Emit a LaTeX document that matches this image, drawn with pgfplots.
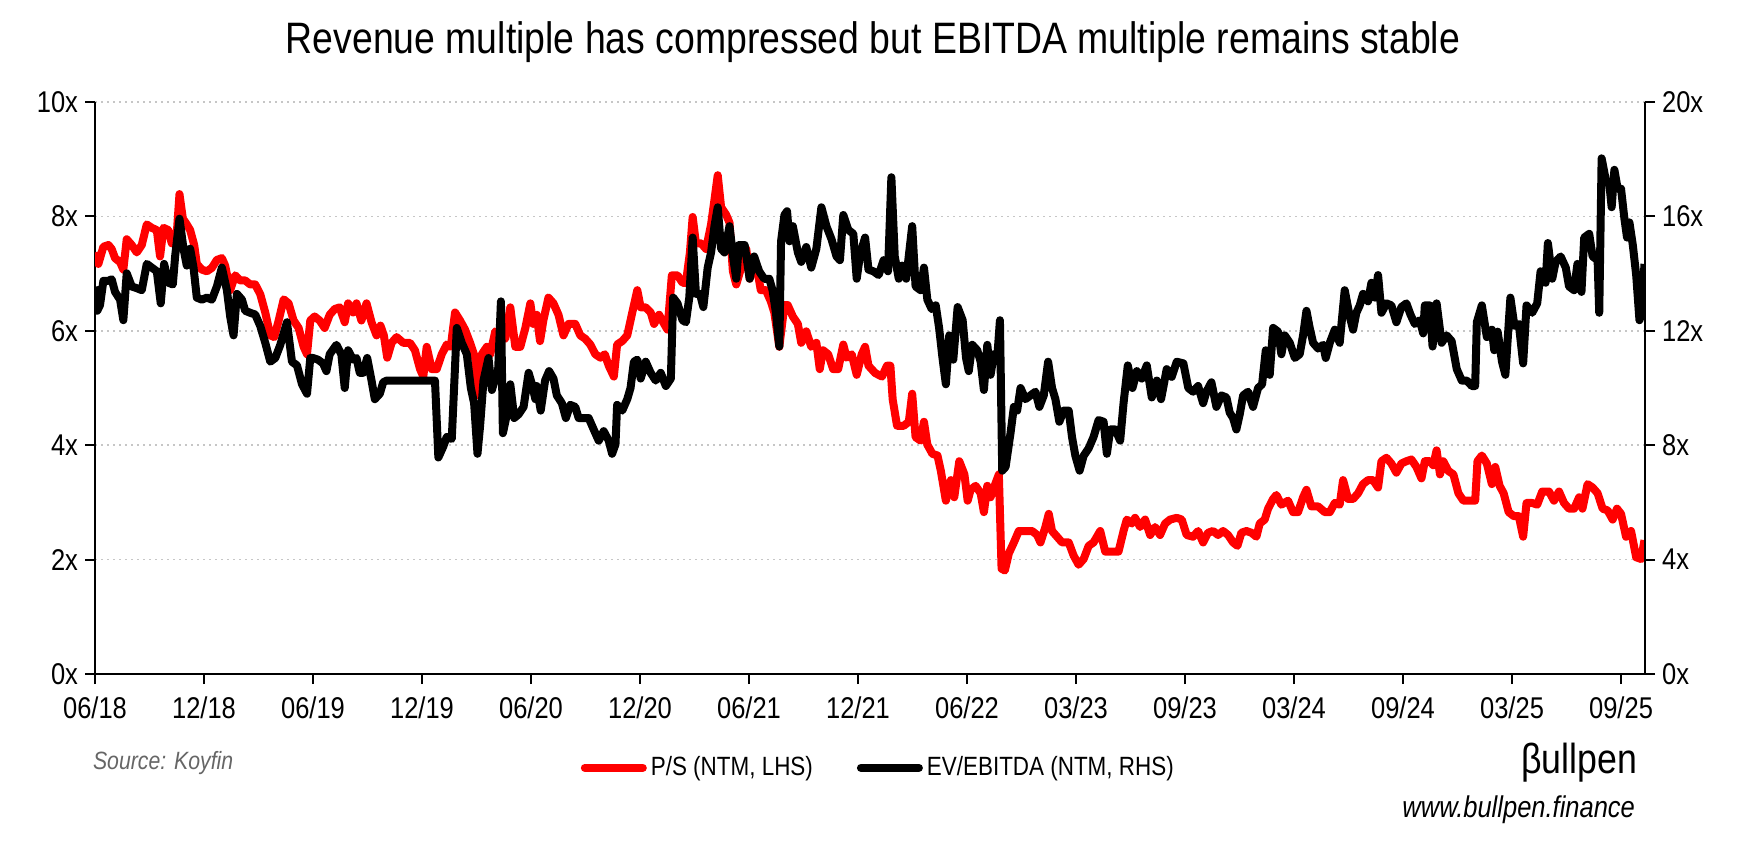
\documentclass[border=0pt]{standalone}
\usepackage{fontspec}
\setmainfont{Liberation Sans}[FakeStretch=0.85]
\usepackage{pgfplots}
\usepackage{pgfplotstable}
\pgfplotsset{compat=1.18}

% P/S (NTM), left axis; x = position in tick steps (0 = 06/18, 14 = 09/25)
\pgfplotstableread{
t v
0 7.37
0.031 7.17
0.077 7.47
0.123 7.5
0.153 7.43
0.184 7.27
0.230 7.2
0.260 7.07
0.291 7.6
0.337 7.5
0.383 7.37
0.429 7.5
0.475 7.86
0.521 7.8
0.567 7.76
0.597 7.3
0.628 7.8
0.674 7.76
0.704 7.53
0.744 7.53
0.775 8.39
0.806 7.96
0.842 7.86
0.873 7.76
0.910 7.5
0.934 7.17
0.980 7.07
1.026 7.04
1.072 7.1
1.118 7.24
1.164 7.27
1.194 7.14
1.240 6.71
1.286 6.97
1.332 6.88
1.378 6.88
1.424 6.81
1.470 6.81
1.516 6.64
1.562 6.32
1.608 5.92
1.645 5.89
1.685 6.18
1.731 6.55
1.776 6.48
1.822 6.18
1.868 6.05
1.914 5.72
1.945 5.59
1.975 6.18
2.015 6.25
2.061 6.18
2.107 6.05
2.153 6.28
2.199 6.38
2.245 6.41
2.291 6.15
2.322 6.48
2.368 6.32
2.399 6.48
2.444 6.18
2.491 6.48
2.537 6.15
2.583 5.92
2.619 6.09
2.650 5.92
2.681 5.53
2.721 5.79
2.767 5.89
2.828 5.79
2.889 5.79
2.935 5.66
2.982 5.33
3.012 5.2
3.043 5.72
3.089 5.33
3.135 5.33
3.181 5.59
3.227 5.76
3.264 5.72
3.303 6.32
3.349 6.18
3.395 6.02
3.441 5.79
3.487 5.53
3.518 4.87
3.549 5.59
3.595 5.72
3.626 5.59
3.672 5.99
3.718 5.92
3.764 5.86
3.810 6.41
3.856 5.72
3.902 5.72
3.948 6.05
3.994 6.48
4.021 6.12
4.052 6.28
4.083 5.82
4.113 6.18
4.160 6.58
4.206 6.48
4.252 6.28
4.298 5.92
4.344 6.12
4.406 6.12
4.452 5.92
4.498 5.86
4.544 5.76
4.590 5.59
4.637 5.53
4.677 5.59
4.713 5.39
4.760 5.2
4.790 5.76
4.837 5.82
4.883 5.92
4.929 6.32
4.975 6.71
5.006 6.41
5.052 6.41
5.098 6.32
5.129 6.12
5.175 6.28
5.221 6.12
5.252 6.02
5.292 6.97
5.344 6.97
5.390 6.84
5.421 6.84
5.458 7.37
5.483 7.99
5.513 7.53
5.560 7.53
5.606 7.43
5.652 7.86
5.683 8.29
5.713 8.72
5.744 8.16
5.790 8.03
5.821 7.89
5.852 7.04
5.883 6.81
5.929 7.11
5.975 7.43
6.006 6.91
6.031 7.07
6.078 7.04
6.108 6.71
6.155 6.71
6.201 6.51
6.232 6.32
6.278 5.72
6.325 6.45
6.355 6.45
6.402 6.25
6.448 6.12
6.479 5.79
6.525 5.99
6.571 5.72
6.618 5.79
6.649 5.33
6.679 5.66
6.726 5.59
6.772 5.33
6.818 5.33
6.865 5.76
6.895 5.53
6.942 5.59
6.988 5.23
7.034 5.59
7.065 5.72
7.096 5.39
7.158 5.26
7.220 5.2
7.266 5.39
7.297 5.39
7.318 4.8
7.358 4.34
7.420 4.34
7.466 4.41
7.497 4.9
7.528 4.14
7.574 4.08
7.605 4.41
7.636 4.01
7.682 3.85
7.729 3.82
7.760 3.55
7.806 3.03
7.852 3.39
7.883 3.09
7.929 3.72
7.976 3.49
8.006 3.03
8.033 3.22
8.079 3.29
8.125 3.16
8.155 2.83
8.186 3.29
8.216 3.09
8.247 3.26
8.292 3.49
8.317 1.84
8.347 1.81
8.384 2.11
8.430 2.3
8.475 2.5
8.536 2.5
8.597 2.5
8.643 2.43
8.674 2.3
8.719 2.57
8.750 2.8
8.780 2.5
8.826 2.4
8.872 2.3
8.933 2.3
8.978 2.07
9.024 1.91
9.070 2.01
9.116 2.24
9.161 2.3
9.222 2.5
9.268 2.14
9.329 2.14
9.390 2.14
9.436 2.5
9.466 2.7
9.512 2.63
9.542 2.73
9.588 2.57
9.634 2.7
9.680 2.43
9.725 2.57
9.771 2.43
9.817 2.63
9.863 2.7
9.924 2.73
9.970 2.7
10.015 2.43
10.074 2.4
10.120 2.5
10.166 2.3
10.211 2.47
10.257 2.5
10.303 2.43
10.349 2.5
10.395 2.43
10.441 2.3
10.481 2.24
10.517 2.47
10.563 2.5
10.609 2.47
10.655 2.4
10.685 2.63
10.731 2.7
10.762 2.89
10.808 3.06
10.838 3.13
10.884 2.96
10.945 3.03
10.991 2.83
11.037 2.83
11.083 3.09
11.114 3.22
11.159 2.93
11.221 2.93
11.282 2.83
11.328 2.83
11.374 2.99
11.419 2.96
11.450 3.39
11.496 3.06
11.542 3.06
11.588 3.16
11.633 3.32
11.679 3.39
11.725 3.39
11.771 3.26
11.802 3.72
11.848 3.78
11.893 3.68
11.939 3.52
11.985 3.68
12.031 3.72
12.077 3.75
12.123 3.62
12.169 3.42
12.200 3.72
12.246 3.72
12.277 3.65
12.308 3.91
12.339 3.49
12.369 3.72
12.416 3.55
12.462 3.49
12.508 3.16
12.554 3.03
12.616 3.03
12.662 3.03
12.683 3.72
12.723 3.82
12.769 3.68
12.815 3.32
12.846 3.62
12.886 3.29
12.923 3.16
12.969 2.83
13.016 2.76
13.062 2.76
13.102 2.4
13.133 2.99
13.185 2.99
13.231 2.96
13.277 3.19
13.339 3.19
13.385 3.03
13.431 3.19
13.477 2.99
13.523 2.89
13.569 2.89
13.616 3.09
13.646 2.89
13.693 3.32
13.739 3.26
13.785 3.16
13.831 2.89
13.877 2.86
13.923 2.7
13.963 2.89
14.0 2.8
14.046 2.4
14.092 2.5
14.139 2.04
14.185 2.01
14.215 2.34
}\ps

% EV/EBITDA (NTM), right axis
\pgfplotstableread{
t v
0 13.55
0.021 12.7
0.046 12.9
0.077 13.75
0.123 13.75
0.153 13.8
0.184 13.36
0.230 13.09
0.260 12.37
0.291 14.01
0.337 13.55
0.383 13.49
0.429 13.42
0.475 14.34
0.521 14.21
0.567 14.08
0.603 12.96
0.634 14.34
0.674 13.68
0.714 13.62
0.735 14.6
0.775 15.92
0.812 14.87
0.842 14.28
0.873 14.87
0.904 14.21
0.934 13.16
0.980 13.09
1.026 13.16
1.072 13.09
1.118 13.55
1.164 14.21
1.210 13.42
1.240 12.5
1.271 11.84
1.302 13.29
1.348 13.09
1.378 12.7
1.424 12.63
1.470 12.57
1.516 12.17
1.562 11.58
1.608 10.92
1.654 11.05
1.700 11.51
1.761 12.3
1.807 10.92
1.853 10.79
1.899 10.13
1.945 9.8
1.975 11.05
2.0 11.05
2.046 10.99
2.092 10.86
2.123 10.59
2.153 11.18
2.215 11.51
2.260 11.18
2.291 10.0
2.322 11.32
2.368 10.99
2.399 11.05
2.429 10.53
2.460 10.53
2.497 11.05
2.537 10.26
2.567 9.61
2.613 9.8
2.644 10.2
2.675 10.26
3.119 10.26
3.150 7.57
3.196 7.96
3.227 8.29
3.273 8.22
3.319 12.1
3.365 11.58
3.411 11.18
3.448 10.0
3.478 9.47
3.509 7.7
3.533 8.68
3.564 10.26
3.610 11.05
3.641 9.93
3.672 10.33
3.696 10.39
3.724 13.03
3.742 8.42
3.779 9.08
3.810 10.13
3.846 8.95
3.886 9.08
3.932 9.34
3.978 10.53
4.009 10.13
4.040 9.61
4.052 10.07
4.089 9.21
4.129 10.26
4.166 10.59
4.206 10.33
4.237 9.74
4.283 9.47
4.320 8.95
4.360 9.41
4.406 9.34
4.437 8.95
4.483 8.95
4.529 8.95
4.575 8.55
4.621 8.16
4.667 8.49
4.713 8.16
4.744 7.7
4.775 8.03
4.790 9.41
4.837 9.21
4.883 9.61
4.913 10.0
4.944 10.92
4.975 10.99
5.006 10.33
5.052 10.92
5.098 10.53
5.144 10.26
5.190 10.53
5.237 10.07
5.283 10.33
5.304 13.16
5.344 12.96
5.390 12.37
5.421 12.3
5.452 13.16
5.483 15.26
5.513 13.29
5.550 13.29
5.581 12.83
5.621 14.21
5.652 14.74
5.683 15.66
5.713 16.32
5.744 14.87
5.775 14.74
5.821 15.66
5.858 14.47
5.883 13.82
5.907 15.0
5.960 15.0
6.006 13.82
6.047 14.6
6.093 14.08
6.139 13.82
6.186 13.82
6.216 13.42
6.247 12.63
6.278 11.45
6.294 15.13
6.325 16.05
6.349 16.18
6.371 15.13
6.402 15.66
6.448 14.74
6.479 14.41
6.525 14.93
6.571 14.21
6.618 14.87
6.664 16.32
6.710 15.66
6.757 15.2
6.803 14.6
6.834 14.47
6.865 16.05
6.911 15.53
6.957 15.39
6.988 13.82
7.019 14.67
7.065 15.26
7.096 14.14
7.142 14.08
7.189 13.95
7.235 14.47
7.275 14.08
7.306 17.37
7.337 14.6
7.374 13.82
7.405 14.28
7.442 13.82
7.497 15.66
7.528 13.55
7.574 13.42
7.605 14.21
7.636 13.09
7.676 12.76
7.713 12.89
7.744 12.1
7.775 11.05
7.806 10.13
7.837 11.84
7.874 10.99
7.914 12.83
7.960 12.37
7.991 11.05
8.016 10.59
8.048 11.51
8.094 11.32
8.125 10.92
8.155 9.93
8.186 11.51
8.216 10.46
8.247 11.18
8.277 11.05
8.302 12.37
8.323 7.11
8.354 7.24
8.399 8.42
8.430 9.34
8.460 9.21
8.491 10.0
8.536 9.61
8.582 9.74
8.628 9.87
8.664 9.34
8.704 9.74
8.744 10.92
8.780 10.0
8.811 9.61
8.847 8.82
8.887 9.21
8.933 9.21
8.963 8.29
8.994 7.63
9.033 7.11
9.070 7.63
9.116 7.89
9.161 8.29
9.207 8.88
9.253 8.82
9.283 7.7
9.314 8.55
9.360 8.55
9.405 8.16
9.436 9.47
9.475 10.79
9.518 10.0
9.558 10.59
9.603 10.33
9.649 10.79
9.695 9.67
9.741 10.26
9.780 9.61
9.832 10.66
9.878 10.39
9.924 10.92
9.985 10.86
10.030 10.0
10.074 9.87
10.120 10.07
10.166 9.47
10.196 9.87
10.242 10.2
10.288 9.34
10.334 9.74
10.380 9.67
10.410 9.14
10.441 8.95
10.471 8.55
10.502 9.08
10.533 9.74
10.578 9.87
10.624 9.34
10.670 10.0
10.707 10.13
10.741 11.32
10.777 10.46
10.808 12.1
10.854 11.97
10.884 11.18
10.915 11.84
10.961 11.58
11.007 11.05
11.052 11.18
11.083 11.84
11.114 12.7
11.144 12.1
11.175 11.58
11.221 11.38
11.267 11.51
11.291 11.05
11.328 11.58
11.374 12.04
11.419 11.58
11.465 13.42
11.511 12.5
11.542 12.04
11.572 12.63
11.603 12.89
11.633 13.29
11.679 13.03
11.710 13.68
11.741 13.16
11.771 13.95
11.802 12.63
11.848 12.96
11.893 12.89
11.939 12.3
11.985 12.83
12.031 12.96
12.068 12.57
12.108 12.24
12.154 12.37
12.185 11.91
12.200 12.89
12.246 12.89
12.271 11.45
12.308 12.96
12.354 11.58
12.400 11.84
12.446 11.64
12.493 10.66
12.539 10.26
12.585 10.26
12.631 10.07
12.662 10.07
12.677 12.3
12.723 12.89
12.769 11.78
12.815 12.04
12.837 11.32
12.868 11.97
12.908 10.92
12.939 10.46
12.985 13.16
13.022 12.17
13.062 12.24
13.102 10.86
13.133 12.89
13.185 12.63
13.231 12.96
13.262 14.08
13.308 13.68
13.329 15.07
13.369 13.82
13.400 14.41
13.446 14.6
13.493 14.21
13.523 13.55
13.569 13.42
13.600 14.34
13.637 13.36
13.662 15.26
13.708 15.39
13.739 14.6
13.785 14.47
13.800 12.63
13.822 18.03
13.862 17.24
13.893 17.11
13.914 16.32
13.939 17.63
13.969 16.97
14.0 16.97
14.031 15.92
14.055 15.26
14.077 15.79
14.108 15.0
14.139 13.95
14.169 12.37
14.191 12.63
14.215 14.34
}\ev

\pgfplotsset{
  base/.style={
    at={(47.5pt,95pt)}, anchor=south west,
    scale only axis, width=775pt, height=286pt,
    xmin=0, xmax=14.22,
    tick align=outside, major tick length=5pt,
    tick style={black, line width=1pt},
    axis line style={line width=1pt},
    ticklabel style={font=\fontsize{15}{18}\selectfont},
  },
}

\begin{document}
\begin{tikzpicture}
\path[use as bounding box] (0,0) rectangle (873pt,432pt);

\node at (436.5pt,411pt) {\fontsize{22}{26}\selectfont Revenue multiple has compressed but EBITDA multiple remains stable};

\begin{axis}[base,
  axis x line*=bottom, axis y line*=left,
  ymin=0, ymax=10, ytick={0,2,...,10},
  yticklabel={\pgfmathprintnumber[assume math mode=true]{\tick}x},
  xtick={0,...,14},
  xticklabels={06/18,12/18,06/19,12/19,06/20,12/20,06/21,12/21,06/22,03/23,09/23,03/24,09/24,03/25,09/25},
  xticklabel style={yshift=-3pt},
  ymajorgrids,
  grid style={gray!45, line width=0.8pt, dash pattern=on 1pt off 2pt},
]
\addplot[red, line width=4pt, line join=round] table {\ps};
\end{axis}

\begin{axis}[base,
  axis x line=none, axis y line*=right,
  ymin=0, ymax=20, ytick={0,4,...,20},
  yticklabel={\pgfmathprintnumber[assume math mode=true]{\tick}x},
  legend style={draw=none, fill=none, at={(0.506,-0.164)}, anchor=center,
    font=\fontsize{13.2}{16}\selectfont,
    /tikz/every even column/.append style={column sep=20pt}},
  legend columns=2,
  legend image code/.code={\draw[#1, line cap=round] (0pt,0pt) -- (29pt,0pt);},
]
\addlegendimage{red, line width=4pt}
\addlegendentry{P/S (NTM, LHS)}
\addplot[black, line width=4pt, line join=round] table {\ev};
\addlegendentry{EV/EBITDA (NTM, RHS)}
\end{axis}

\node[anchor=west, text=black!60] at (43pt,50.5pt) {\fontsize{12.5}{14}\selectfont\itshape Source: Koyfin};
\node[anchor=east] at (822pt,50.5pt) {\fontsize{21}{24}\selectfont βullpen};
\node[anchor=east] at (821pt,27pt) {\fontsize{15}{18}\selectfont\itshape www.bullpen.finance};
\end{tikzpicture}
\end{document}
